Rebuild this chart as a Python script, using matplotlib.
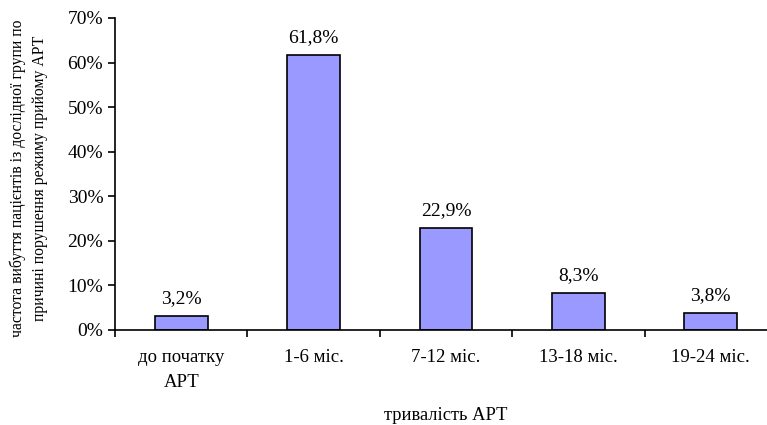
import numpy as np
import matplotlib.pyplot as plt
from matplotlib.ticker import FixedLocator, PercentFormatter

plt.rcParams['font.family'] = ['Liberation Serif', 'DejaVu Serif']

categories = ['до початку\nАРТ', '1-6 міс.', '7-12 міс.', '13-18 міс.', '19-24 міс.']
values = [3.2, 61.8, 22.9, 8.3, 3.8]
labels = ['3,2%', '61,8%', '22,9%', '8,3%', '3,8%']

fig = plt.figure(figsize=(7.67, 4.25), dpi=100)
ax = fig.add_axes([115 / 767, 95 / 425, 662 / 767, 312 / 425])

x = np.arange(len(categories))
ax.bar(x, values, width=0.4, color='#9999FF', edgecolor='black', linewidth=1.2)
for xi, v, t in zip(x, values, labels):
    ax.text(xi, v + 2.0, t, ha='center', va='bottom', fontsize=14)

ax.set_xlim(-0.5, len(categories) - 0.5)
ax.set_ylim(0, 70)
ax.set_yticks(np.arange(0, 71, 10))
ax.yaxis.set_major_formatter(PercentFormatter(decimals=0))
ax.tick_params(axis='y', labelsize=14, direction='out', length=5, width=1.2)

# x ticks between categories, labels at centers
ax.xaxis.set_major_locator(FixedLocator(np.arange(-0.5, len(categories), 1)))
ax.xaxis.set_minor_locator(FixedLocator(x))
ax.set_xticklabels([])
ax.set_xticklabels(categories, minor=True, fontsize=13.5, linespacing=1.55)
ax.tick_params(axis='x', which='major', direction='out', length=5, width=1.2)
ax.tick_params(axis='x', which='minor', length=0, pad=14)

for s in ['top', 'right']:
    ax.spines[s].set_visible(False)
for s in ['left', 'bottom']:
    ax.spines[s].set_linewidth(1.2)

fig.text(29 / 767, 1 - 178 / 425,
         'частота вибуття пацієнтів із дослідної групи по\nпричині порушення режиму прийому АРТ',
         rotation=90, ha='center', va='center', fontsize=11.3, linespacing=1.5)
fig.text(446 / 767, 1 - 416 / 425, 'тривалість АРТ', ha='center', va='center', fontsize=13.3)

fig.savefig('out.png', dpi=100)
